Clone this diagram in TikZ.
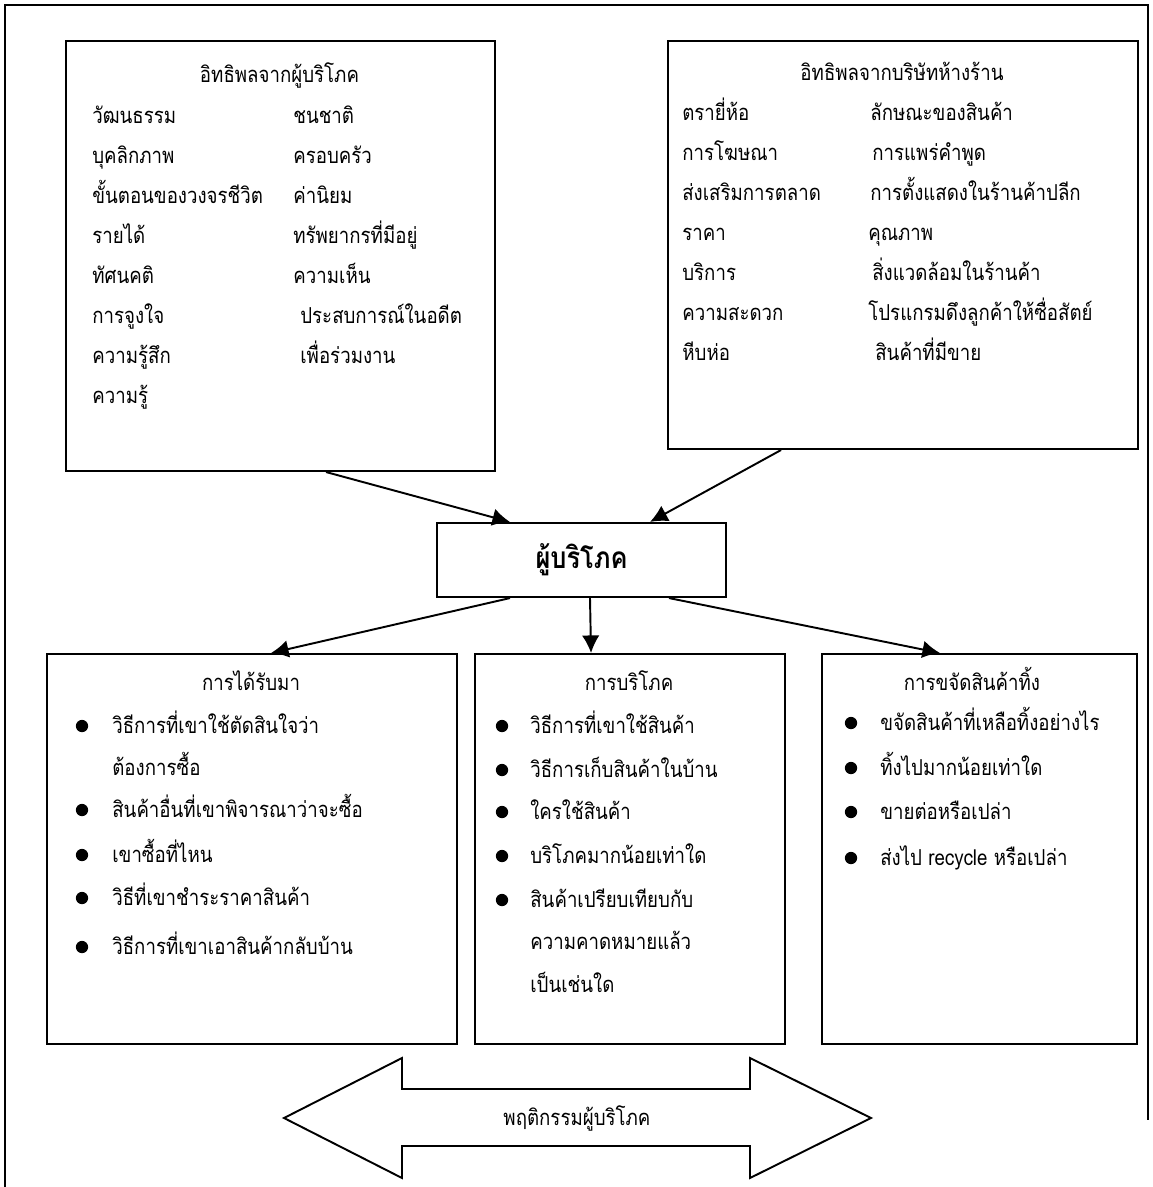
\documentclass[tikz,border=0pt]{standalone}
\usepackage{fontspec}
\newfontfamily\thaifont[Script=Thai, FakeStretch=0.85]{Loma}
\usetikzlibrary{positioning, arrows.meta}
\tikzset{
  kbox/.style={draw, line width=1.2pt, anchor=north west, inner sep=0pt},
  ktxt/.style={anchor=base west, inner sep=0pt, font=\thaifont\fontsize{12.5}{14}\selectfont},
  khead/.style={anchor=base, inner sep=0pt, font=\thaifont\fontsize{12.5}{14}\selectfont},
  klink/.style={->, line width=1.1pt},
}
\begin{document}
\begin{tikzpicture}[>={Latex[length=10pt, width=10pt]}, x=0.02cm, y=-0.02cm]
    \useasboundingbox (0,0) rectangle (1153,1187);
    % กรอบนอก
    \draw[line width=0.8pt] (5,1187) -- (5,5) -- (1148,5) -- (1148,1120);

    % อิทธิพลจากผู้บริโภค
    \node[kbox, minimum width=8.58cm, minimum height=8.6cm] (infA) at (65,40) {};
    \node[khead] (tA) at (279.5,82) {อิทธิพลจากผู้บริโภค};
    \foreach \t [count=\i] in {วัฒนธรรม, บุคลิกภาพ, ขั้นตอนของวงจรชีวิต, รายได้, ทัศนคติ, การจูงใจ, ความรู้สึก, ความรู้} {
        \node[ktxt] (a\i) at (92, {83+40*\i}) {\t};
    }
    \foreach \x/\t [count=\i] in {293/ชนชาติ, 293/ครอบครัว, 293/ค่านิยม, 293/ทรัพยากรที่มีอยู่, 293/ความเห็น, 300/ประสบการณ์ในอดีต, 300/เพื่อร่วมงาน} {
        \node[ktxt] (b\i) at (\x, {83+40*\i}) {\t};
    }

    % อิทธิพลจากบริษัทห้างร้าน
    \node[kbox, minimum width=9.4cm, minimum height=8.16cm] (infB) at (667,40) {};
    \node[khead] (tB) at (902,80) {อิทธิพลจากบริษัทห้างร้าน};
    \foreach \t [count=\i] in {ตรายี่ห้อ, การโฆษณา, ส่งเสริมการตลาด, ราคา, บริการ, ความสะดวก, หีบห่อ} {
        \node[ktxt] (c\i) at (682, {80+40*\i}) {\t};
    }
    \foreach \x/\t [count=\i] in {870/ลักษณะของสินค้า, 872/การแพร่คำพูด, 870/การตั้งแสดงในร้านค้าปลีก, 868/คุณภาพ, 872/สิ่งแวดล้อมในร้านค้า, 868/โปรแกรมดึงลูกค้าให้ซื่อสัตย์, 875/สินค้าที่มีขาย} {
        \node[ktxt] (d\i) at (\x, {80+40*\i}) {\t};
    }

    % ผู้บริโภค
    \node[kbox, anchor=center, minimum width=5.78cm, minimum height=1.48cm,
          font=\thaifont\bfseries\fontsize{17}{20}\selectfont] (cons) at (581.5,560) {ผู้บริโภค};

    % กล่องด้านล่าง
    \node[kbox, minimum width=8.2cm, minimum height=7.8cm] (getB) at (46,653) {};
    \node[kbox, minimum width=6.2cm, minimum height=7.8cm] (useB) at (474,653) {};
    \node[kbox, minimum width=6.3cm, minimum height=7.8cm] (dropB) at (821,653) {};

    \node[khead] (tG) at (251,690) {การได้รับมา};
    \foreach \y/\t [count=\i] in {726/วิธีการที่เขาใช้ตัดสินใจว่า, 768/ต้องการซื้อ, 810/สินค้าอื่นที่เขาพิจารณาว่าจะซื้อ, 855/เขาซื้อที่ไหน, 898/วิธีที่เขาชำระราคาสินค้า, 947/วิธีการที่เขาเอาสินค้ากลับบ้าน} {
        \node[ktxt] (g\i) at (112,\y+7) {\t};
    }
    \foreach \y in {726,810,855,898,947} {
        \fill (82,\y) circle (3.5pt);
    }

    \node[khead] (tU) at (629,690) {การบริโภค};
    \foreach \y/\t [count=\i] in {726/วิธีการที่เขาใช้สินค้า, 770/วิธีการเก็บสินค้าในบ้าน, 812/ใครใช้สินค้า, 856/บริโภคมากน้อยเท่าใด, 900/สินค้าเปรียบเทียบกับ, 942/ความคาดหมายแล้ว, 985/เป็นเช่นใด} {
        \node[ktxt] (u\i) at (530,\y+7) {\t};
    }
    \foreach \y in {726,770,812,856,900} {
        \fill (502,\y) circle (3.5pt);
    }

    \node[khead] (tD) at (972,690) {การขจัดสินค้าทิ้ง};
    \foreach \y/\t [count=\i] in {723/ขจัดสินค้าที่เหลือทิ้งอย่างไร, 768/ทิ้งไปมากน้อยเท่าใด, 812/ขายต่อหรือเปล่า, 858/ส่งไป recycle หรือเปล่า} {
        \node[ktxt] (e\i) at (880,\y+7) {\t};
    }
    \foreach \y in {723,768,812,858} {
        \fill (851,\y) circle (3.5pt);
    }

    % ลูกศร
    \draw[klink] ([xshift=0.91cm]infA.south) -- ([xshift=-1.43cm]cons.north);
    \draw[klink] ([xshift=-2.44cm]infB.south) -- ([xshift=1.37cm]cons.north);
    \draw[klink] ([xshift=-1.43cm]cons.south) -- ([xshift=0.38cm]getB.north);
    \draw[klink] ([xshift=0.17cm]cons.south) -- ([xshift=-0.78cm]useB.north);
    \draw[klink] ([xshift=1.75cm]cons.south) -- ([xshift=-0.79cm]dropB.north);

    % พฤติกรรมผู้บริโภค
    \draw[line width=1.1pt] (284,1118) -- (402,1058) -- (402,1089) -- (750,1089) -- (750,1058)
        -- (871,1118) -- (750,1178) -- (750,1146) -- (402,1146) -- (402,1178) -- cycle;
    \node[khead] (behav) at (577,1125) {พฤติกรรมผู้บริโภค};
\end{tikzpicture}
\end{document}
